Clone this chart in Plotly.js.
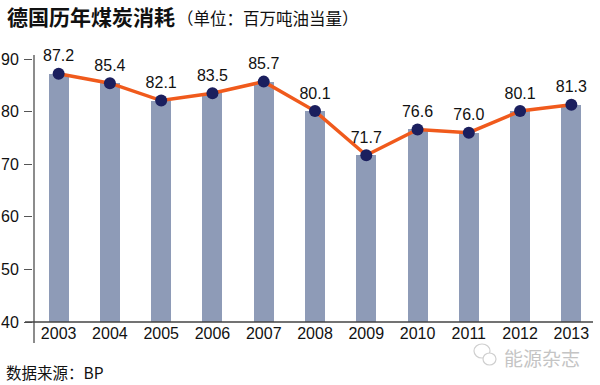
<!DOCTYPE html>
<html><head><meta charset="utf-8">
<script src="https://cdn.plot.ly/plotly-3.0.1.min.js"></script>
<style>html,body{margin:0;padding:0;background:#fff}#chart{width:600px;height:385px}</style>
</head><body><div id="chart"></div>
<script>
const years = ['2003','2004','2005','2006','2007','2008','2009','2010','2011','2012','2013'];
const consumption = [87.2, 85.4, 82.1, 83.5, 85.7, 80.1, 71.7, 76.6, 76.0, 80.1, 81.3];
const yTicks = [40, 50, 60, 70, 80, 90];
const titleMain = '德国历年煤炭消耗';
const titleUnit = '（单位：百万吨油当量）';
const sourceText = '数据来源：BP';
const watermark = '能源杂志';

const W = 600, H = 385, L = 33, R = 3, T = 52, B = 63;
const pw = W - L - R, ph = H - T - B;
const px = x => (x - L) / pw;
const py = y => (H - B - y) / ph;
const numFont = 'Liberation Sans, Arial, sans-serif';
const cjkFont = 'Noto Sans CJK SC, sans-serif';

const traces = [
  {type:'bar', x: years, y: consumption, width: 0.39,
   marker:{color:'#8e9bb7'}, hoverinfo:'skip'},
  {type:'scatter', mode:'lines+markers+text', x: years, y: consumption,
   text: consumption.map(v => v.toFixed(1)), textposition:'top center',
   textfont:{family:numFont, size:16, color:'#111'},
   line:{color:'#f05a1c', width:3.5},
   marker:{color:'#1b1f5e', size:12}, cliponaxis:false}
];

const layout = {
  width: W, height: H, margin:{l:L, r:R, t:T, b:B},
  paper_bgcolor:'#fff', plot_bgcolor:'#fff', showlegend:false, bargap:0,
  font:{family:numFont, color:'#111'},
  xaxis:{type:'category', range:[-0.5, 10.5], showgrid:false, zeroline:false,
    showline:false, ticks:'', tickfont:{family:numFont, size:16, color:'#111'}, fixedrange:true},
  yaxis:{range:[40, 40 + ph/5.26], tickvals: yTicks, showgrid:false, zeroline:false,
    showline:false, ticks:'outside', ticklen:8, tickcolor:'#555', tickwidth:1,
    tickfont:{family:numFont, size:16, color:'#111'}, ticklabelstandoff:2},
  shapes:[
    {type:'line', xref:'paper', yref:'paper', x0:px(34), x1:px(34), y0:py(55), y1:py(343), line:{color:'#666', width:1.5}},
    {type:'line', xref:'paper', yref:'paper', x0:px(25), x1:px(593), y0:py(322), y1:py(322), line:{color:'#444', width:1.5}},
    {type:'circle', xref:'paper', yref:'paper', x0:px(474), x1:px(490), y0:py(358), y1:py(344), line:{color:'#cfcfcf', width:1.2}},
    {type:'circle', xref:'paper', yref:'paper', x0:px(483), x1:px(496), y0:py(365), y1:py(353), line:{color:'#cfcfcf', width:1.2}, fillcolor:'#fff'}
  ],
  annotations:[
    {xref:'paper', yref:'paper', x:px(5), y:py(16.5), xanchor:'left', yanchor:'middle', showarrow:false,
     text:'<b>'+titleMain+'</b>', font:{family:cjkFont, size:21, color:'#111'}},
    {xref:'paper', yref:'paper', x:px(175), y:py(18), xanchor:'left', yanchor:'middle', showarrow:false,
     text:titleUnit, font:{family:cjkFont, size:16.5, color:'#111'}},
    {xref:'paper', yref:'paper', x:px(4), y:py(372), xanchor:'left', yanchor:'middle', showarrow:false,
     text:sourceText, font:{family:cjkFont, size:15.5, color:'#111'}},
    {xref:'paper', yref:'paper', x:px(502), y:py(357), xanchor:'left', yanchor:'middle', showarrow:false,
     text:watermark, font:{family:cjkFont, size:19, color:'#c4c4c4'}}
  ]
};
Plotly.newPlot('chart', traces, layout, {displayModeBar:false, staticPlot:true});
</script></body></html>
